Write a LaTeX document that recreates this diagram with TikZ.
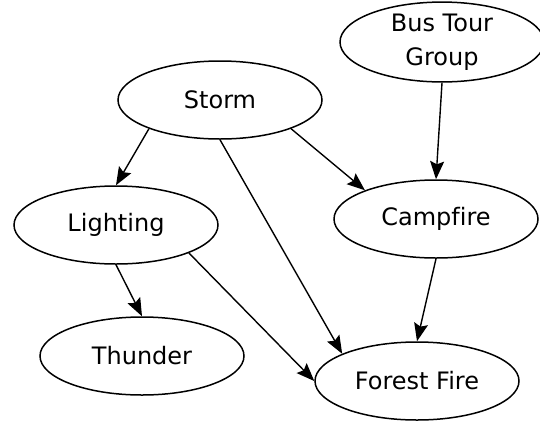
\documentclass[tikz,border=0pt]{standalone}
\usepackage{fontspec}
\setmainfont{DejaVu Sans}[Ligatures=NoCommon]
\usetikzlibrary{arrows.meta, shapes.geometric}

\begin{document}
\begin{tikzpicture}[x=1pt, y=-1pt,
    evnode/.style={ellipse, draw, line width=1.5pt, minimum width=204pt, minimum height=78pt, inner sep=0pt, align=center, font=\fontsize{24}{34}\selectfont},
    cause/.style={-{Stealth[length=18pt, width=14pt, inset=3pt]}, line width=1.4pt}]
    \useasboundingbox (0, 0) rectangle (540, 421);

    % Nodes
    \node[evnode] at (220, 100) (storm)    {Storm};
    \node[evnode] at (442, 42)  (bus)      {Bus Tour\\Group};
    \node[evnode] at (116, 225) (lighting) {Lighting};
    \node[evnode] at (436, 219) (campfire) {Campfire};
    \node[evnode] at (142, 356) (thunder)  {Thunder};
    \node[evnode] at (417, 381) (forest)   {Forest Fire};

    \draw[cause]  (storm.202) -- (lighting.north);
    \draw[cause]  (storm.338) -- (campfire.158);
    \draw[cause]  (storm.south) -- (forest.160);
    \draw[cause]  (bus.south) -- (campfire.north);
    \draw[cause]  (lighting.south) -- (thunder.north);
    \draw[cause]  (lighting.339) -- (forest.west);
    \draw[cause]  (campfire.south) -- (forest.north);

  \end{tikzpicture}
\end{document}
